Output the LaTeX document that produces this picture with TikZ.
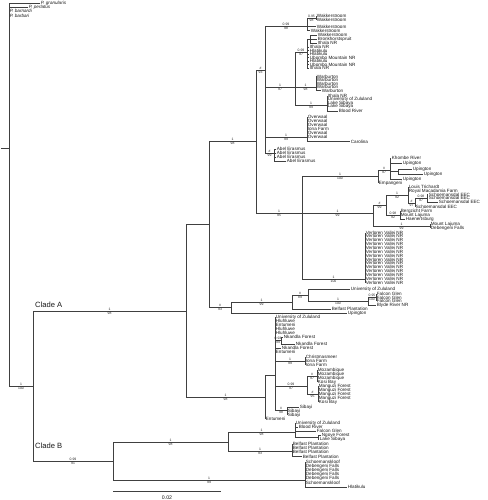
\documentclass[tikz,border=0pt]{standalone}
\usepackage{fontspec}
\setmainfont{Liberation Sans}
\tikzset{
  br/.style={draw=black!75, line width=0.75pt},
  lf/.style={anchor=west, inner sep=0.7pt, font=\fontsize{4.6}{5}\selectfont, text=black!90},
  su/.style={anchor=south, inner sep=0.4pt, font=\fontsize{3.4}{3.6}\selectfont, text=black!85},
  sd/.style={anchor=north, inner sep=0.4pt, font=\fontsize{3.4}{3.6}\selectfont, text=black!85},
  cl/.style={anchor=west, inner sep=0pt, font=\fontsize{7.6}{8}\selectfont, text=black!90},
}
\newcommand{\tbs}[4]{\draw[br] (#1) |- (#2) node[pos=0.75,su]{#3} node[pos=0.75,sd]{#4};}
\newcommand{\tbn}[2]{\draw[br] (#1) |- (#2);}
\newcommand{\tlv}[5]{\node[lf] (#2) at (#3,#4) {#5}; \draw[br] (#1) |- (#2.west);}
\begin{document}
\begin{tikzpicture}[x=1pt,y=-1pt]
\fill[white] (0,0) rectangle (487,500);
\useasboundingbox (0,0) rectangle (487,500);
% root and outgroups
\coordinate (root) at (9,148);
\coordinate (stem) at (1,148);
\draw[br] (stem) -- (root);
\tlv{root}{og1}{40}{3}{\itshape P. granularis}
\tlv{root}{og2}{28}{7}{\itshape P. perlatus}
\tlv{root}{og3}{9}{11}{\itshape P. barnardi}
\tlv{root}{og4}{9}{15.5}{\itshape P. barbari}
\coordinate (IN) at (33,386);
\tbs{root}{IN}{1}{100}
\coordinate (CA) at (186,311); \tbs{IN}{CA}{1}{98}
\coordinate (CB) at (113,461); \tbs{IN}{CB}{0.99}{91}
\node[cl] (cla) at (35,305) {Clade A};
\node[cl] (clb) at (35,446) {Clade B};
% clade A
\coordinate (A1) at (209,224); \tbn{CA}{A1}
\coordinate (A2) at (265,397); \tbs{CA}{A2}{1}{98}
\coordinate (A11) at (256,141); \tbs{A1}{A11}{1}{98}
\coordinate (A12) at (231,307); \tbs{A1}{A12}{\#}{93}
\coordinate (A111) at (265,70); \tbs{A11}{A111}{\#}{93}
\coordinate (P) at (302,213); \tbs{A11}{P}{1}{95}
% upper group
\coordinate (W) at (307,26); \tbs{A111}{W}{0.99}{98}
\coordinate (G2) at (295,87); \tbs{A111}{G2}{1}{97}
\coordinate (OV) at (307,137); \tbs{A111}{OV}{1}{99}
\coordinate (AE) at (274,153); \tbs{A111}{AE}{\#}{99}
\coordinate (W1) at (316,18); \tbs{W}{W1}{0.95}{98}
\tlv{W1}{wk1}{316}{16}{Wakkerstroom}
\tlv{W1}{wk2}{316}{20}{Wakkerstroom}
\tlv{W}{wk3}{316}{26.5}{Wakkerstroom}
\tlv{W}{wk4}{310}{30.5}{Wakkerstroom}
\coordinate (G21) at (307,52); \tbs{G2}{G21}{0.99}{97}
\coordinate (WB) at (316,87); \tbs{G2}{WB}{1}{98}
\coordinate (LS) at (327,105); \tbs{G2}{LS}{1}{99}
\coordinate (G211) at (310,39); \tbn{G21}{G211}
\tlv{G211}{g1}{317}{35}{Wakkerstroom}
\tlv{G211}{g2}{317}{39}{Bronkhorstspruit}
\tlv{G211}{g3}{317}{43}{Ithala NR}
\tlv{G21}{g4}{309}{47}{Ithala NR}
\tlv{G21}{g5}{309}{50.5}{Hlatikulu}
\tlv{G21}{g6}{309}{54}{Hlatikulu}
\tlv{G21}{g7}{309}{57.5}{Ubombo Mountain NR}
\tlv{G21}{g8}{309}{61}{Hlatikulu}
\tlv{G21}{g9}{309}{64.5}{Ubombo Mountain NR}
\tlv{G21}{g10}{309}{68}{Ithala NR}
\tlv{WB}{wb1}{316}{76.5}{Warburton}
\tlv{WB}{wb2}{316}{80}{Warburton}
\tlv{WB}{wb3}{316}{83.5}{Warburton}
\tlv{WB}{wb4}{316}{87}{Warburton}
\tlv{WB}{wb5}{321}{90.5}{Warburton}
\tlv{LS}{ls1}{327}{96}{Ithala NR}
\tlv{LS}{ls2}{327}{99.5}{University of Zululand}
\tlv{LS}{ls3}{327}{103}{Lake Sibaya}
\tlv{LS}{ls4}{327}{106.5}{Lake Sibaya}
\tlv{LS}{ls5}{338}{111}{Blood River}
\tlv{OV}{ov1}{307}{117}{Overwaal}
\tlv{OV}{ov2}{307}{121}{Overwaal}
\tlv{OV}{ov3}{307}{125}{Overwaal}
\tlv{OV}{ov4}{307}{129}{Iona Farm}
\tlv{OV}{ov5}{307}{133}{Overwaal}
\tlv{OV}{ov6}{307}{137}{Overwaal}
\tlv{OV}{ca}{350}{141.5}{Carolina}
\tlv{AE}{ae1}{276}{149}{Abel Erasmus}
\tlv{AE}{ae2}{276}{153}{Abel Erasmus}
\tlv{AE}{ae3}{276}{157}{Abel Erasmus}
\tlv{AE}{ae4}{286}{161}{Abel Erasmus}
% middle group
\coordinate (K) at (378,176); \tbs{P}{K}{1}{100}
\coordinate (Q) at (373,213); \tbs{P}{Q}{1}{99}
\coordinate (VV) at (365,279); \tbs{P}{VV}{1}{100}
\coordinate (X) at (390,170); \tbs{K}{X}{\#}{97}
\tlv{K}{em}{378}{183}{Empangeni}
\tlv{X}{kr}{391}{158}{Khombe River}
\tlv{X}{u1}{402}{163.5}{Upington}
\coordinate (Y) at (398,171.5); \tbn{X}{Y}
\tlv{X}{u4}{402}{179}{Upington}
\tlv{Y}{u2}{412}{169}{Upington}
\tlv{Y}{u3}{423}{174}{Upington}
\coordinate (R) at (386,205); \tbs{Q}{R}{\#}{99}
\coordinate (MD) at (430,226); \tbs{Q}{MD}{1}{99}
\tlv{MD}{ml2}{430}{224}{Mount Lajuma}
\tlv{MD}{df0}{430}{228}{Debengeni Falls}
\coordinate (S) at (408,195); \tbs{R}{S}{1}{92}
\coordinate (T) at (400,215); \tbs{R}{T}{0.98}{92}
\tlv{S}{lt}{408}{187}{Louis Trichardt}
\tlv{S}{rm}{408}{191}{Royal Macadamia Farm}
\coordinate (U) at (415,203); \tbs{S}{U}{\#}{97}
\coordinate (V) at (427,198); \tbs{U}{V}{0.98}{97}
\tlv{U}{se4}{415}{207}{Schoemansdal EEC}
\tlv{V}{se1}{428}{194.5}{Schoemansdal EEC}
\tlv{V}{se2}{428}{198}{Schoemansdal EEC}
\tlv{V}{se3}{438}{202}{Schoemansdal EEC}
\tlv{T}{bf}{400}{211}{Bergzicht Farm}
\tlv{T}{ml1}{400}{215}{Mount Lajuma}
\tlv{T}{hb}{405}{219}{Haenertsburg}
\foreach \k in {0,...,13}{
  \pgfmathsetmacro{\yy}{232.5+3.85*\k}
  \tlv{VV}{vv\k}{365}{\yy}{Verloren Vallei NR}
}
% A12 group
\coordinate (B1) at (292,302); \tbs{A12}{B1}{1}{99}
\tlv{A12}{up5}{347}{313}{Upington}
\coordinate (B2) at (308,295.5); \tbs{B1}{B2}{\#}{89}
\tlv{B1}{bp0}{331}{309}{Belfast Plantation}
\tlv{B2}{uz3}{350}{289}{University of Zululand}
\coordinate (FG) at (368,301.5); \tbs{B2}{FG}{1}{100}
\coordinate (FG1) at (376,297.5); \tbs{FG}{FG1}{0.95}{100}
\tlv{FG}{blr}{376}{305.5}{Blyde River NR}
\tlv{FG1}{fg1}{376}{294}{Falcon Glen}
\tlv{FG1}{fg2}{376}{297.5}{Falcon Glen}
\tlv{FG1}{fg3}{376}{301}{Falcon Glen}
% A2 group
\coordinate (A21) at (275,375); \tbn{A2}{A21}
\tlv{A2}{en2}{265}{419}{Entumeni}
\tlv{A21}{h1}{275}{317}{University of Zululand}
\tlv{A21}{h2}{275}{321}{Hluhluwe}
\tlv{A21}{h3}{275}{325}{Entumeni}
\tlv{A21}{h4}{275}{329}{Hluhluwe}
\tlv{A21}{h5}{275}{333}{Hluhluwe}
\coordinate (NK) at (281,340.5); \tbs{A21}{NK}{0.93}{99}
\tlv{NK}{nk1}{283}{337}{Nkandla Forest}
\tlv{NK}{nk2}{295}{344}{Nkandla Forest}
\tlv{A21}{nk3}{281}{348}{Nkandla Forest}
\tlv{A21}{en1}{275}{352}{Entumeni}
\coordinate (CI) at (305,361); \tbs{A21}{CI}{1}{99}
\tlv{CI}{ci1}{305}{357}{Christmasmeer}
\tlv{CI}{ci2}{305}{361}{Iona Farm}
\tlv{CI}{ci3}{305}{365}{Iona Farm}
\coordinate (MZ) at (307,386); \tbs{A21}{MZ}{0.99}{97}
\coordinate (M1) at (317,376); \tbs{MZ}{M1}{\#}{97}
\coordinate (M2) at (318,394); \tbs{MZ}{M2}{\#}{95}
\tlv{M1}{mz1}{317}{370}{Mozambique}
\tlv{M1}{mz2}{317}{374}{Mozambique}
\tlv{M1}{mz3}{317}{378}{Mozambique}
\tlv{M1}{kb1}{317}{382}{Kosi Bay}
\tlv{M2}{mg1}{318}{386}{Manguzi Forest}
\tlv{M2}{mg2}{318}{390}{Manguzi Forest}
\tlv{M2}{mg3}{318}{394}{Manguzi Forest}
\tlv{M2}{mg4}{318}{398}{Manguzi Forest}
\tlv{M2}{kb2}{318}{402}{Kosi Bay}
\coordinate (SB) at (287,410); \tbs{A21}{SB}{\#}{98}
\tlv{SB}{sb1}{299}{407}{Sibayi}
\tlv{SB}{sb2}{287}{411}{Sibayi}
\tlv{SB}{sb3}{287}{415}{Sibayi}
% clade B
\coordinate (BB1) at (228,442); \tbs{CB}{BB1}{1}{98}
\coordinate (BB2) at (305,480); \tbs{CB}{BB2}{1}{99}
\coordinate (C1) at (295,432); \tbs{BB1}{C1}{1}{98}
\coordinate (C2) at (292,451); \tbs{BB1}{C2}{1}{93}
\tlv{C1}{c1}{295}{423}{University of Zululand}
\tlv{C1}{c2}{298}{427}{Blood River}
\tlv{C1}{c3}{316}{431}{Falcon Glen}
\coordinate (C11) at (318,437); \tbn{C1}{C11}
\tlv{C11}{c4}{321}{435}{Ngoye Forest}
\tlv{C11}{c5}{319}{439}{Lake Sibaya}
\tlv{C2}{bp1}{292}{444}{Belfast Plantation}
\tlv{C2}{bp2}{292}{448}{Belfast Plantation}
\tlv{C2}{bp3}{292}{452}{Belfast Plantation}
\tlv{C2}{bp4}{302}{456.5}{Belfast Plantation}
\tlv{BB2}{sk1}{305}{462}{Schoemanskloof}
\tlv{BB2}{df1}{305}{466}{Debengeni Falls}
\tlv{BB2}{df2}{305}{470}{Debengeni Falls}
\tlv{BB2}{df3}{305}{474}{Debengeni Falls}
\tlv{BB2}{df4}{305}{478}{Debengeni Falls}
\tlv{BB2}{sk2}{305}{482.5}{Schoemanskloof}
\tlv{BB2}{hl}{347}{487}{Hlatikulu}
% scale bar
\coordinate (s1) at (113,491);
\coordinate (s2) at (221,491);
\draw[br] (s1) -- (s2);
\node[font=\fontsize{5.2}{6}\selectfont, text=black!90, inner sep=0pt] (sl) at (167,497.5) {0.02};
\end{tikzpicture}
\end{document}
